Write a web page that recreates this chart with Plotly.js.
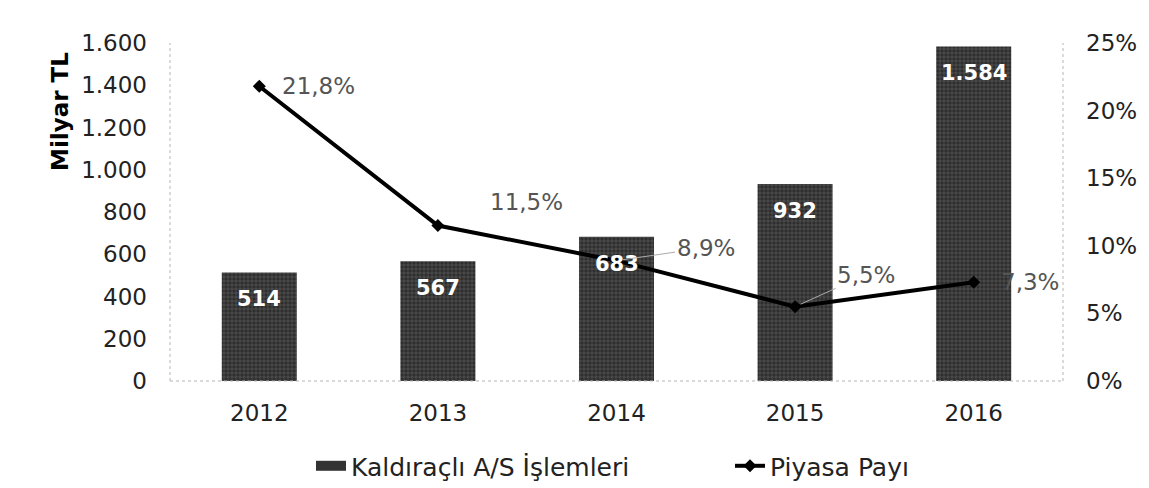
<!DOCTYPE html>
<html lang="tr">
<head>
    <meta charset="UTF-8">
    <title>Kaldıraçlı A/S İşlemleri</title>
    <script src="https://cdn.plot.ly/plotly-3.0.1.min.js"></script>
    <style>
        body { margin: 0; background: #fff; }
        #myDiv { width: 1149px; height: 488px; }
    </style>
</head>
<body>
    <div id="myDiv"></div>
    <script>
        // yillar ve degerler
        var years = [2012, 2013, 2014, 2015, 2016]
        var volume = [514, 567, 683, 932, 1584]      // Milyar TL
        var share = [21.8, 11.5, 8.9, 5.5, 7.3]      // %

        var leftTicks = [0, 200, 400, 600, 800, 1000, 1200, 1400, 1600]
        var rightTicks = [0, 5, 10, 15, 20, 25]

        function trNum(v) {
            return String(v).replace(/\B(?=(\d{3})+(?!\d))/g, '.')
        }

        var trace1 = {
            x: years,
            y: volume,
            type: 'bar',
            name: 'Kaldıraçlı A/S İşlemleri',
            showlegend: false,
            width: 0.42,
            marker: {
                color: '#333',
                line: { width: 0 },
                pattern: { shape: '+', bgcolor: '#2e2e2e', fgcolor: '#8a8a8a', size: 4, solidity: 0.15 }
            },
            hoverinfo: 'skip'
        }
        // legend icin genis kutu (bos iz)
        var legendBar = {
            x: [null],
            y: [null],
            type: 'scatter',
            mode: 'lines',
            name: 'Kaldıraçlı A/S İşlemleri',
            line: { color: '#333', width: 12 },
            hoverinfo: 'skip'
        }
        var trace2 = {
            x: years,
            y: share,
            type: 'scatter',
            mode: 'lines+markers',
            name: 'Piyasa Payı',
            yaxis: 'y2',
            line: { color: '#000', width: 4 },
            marker: { symbol: 'diamond', size: 10, color: '#000' },
            hoverinfo: 'skip'
        }

        var annotations = []
        // bar etiketleri
        for (let i = 0; i < years.length; i++) {
            annotations.push({
                x: years[i], y: volume[i], xref: 'x', yref: 'y',
                text: trNum(volume[i]), showarrow: false,
                yanchor: 'middle', yshift: -27,
                font: { family: 'DejaVu Sans', size: 21, color: '#fff', weight: 'bold' }
            })
        }
        // pay etiketleri (ofsetler piksel, metin merkezine)
        var dx = [59, 89, 89, 71, 56]
        var dy = [0, -24, -13, -32, 0]
        var arrows = [false, false, true, true, false]
        for (let i = 0; i < years.length; i++) {
            annotations.push({
                x: years[i], y: share[i], xref: 'x', yref: 'y2',
                text: share[i].toFixed(1).replace('.', ',') + '%',
                showarrow: true, arrowhead: 0, arrowwidth: 1,
                arrowcolor: arrows[i] ? '#aaa' : 'rgba(0,0,0,0)',
                standoff: 6,
                ax: dx[i], ay: dy[i],
                font: { family: 'DejaVu Sans', size: 23, color: '#555' }
            })
        }
        // eksen basligi (ust kisimda)
        annotations.push({
            xref: 'paper', yref: 'paper', x: 0, y: 0.796,
            xanchor: 'center', yanchor: 'middle', xshift: -110,
            text: 'Milyar TL', textangle: -90, showarrow: false,
            font: { family: 'DejaVu Sans', size: 23, color: '#000', weight: 'bold' }
        })

        var dotted = { color: '#b5b5b5', width: 1, dash: 'dot' }
        var layout = {
            width: 1149,
            height: 488,
            margin: { l: 170, r: 86, t: 43, b: 107 },
            paper_bgcolor: '#fff',
            plot_bgcolor: '#fff',
            separators: ',.',
            font: { family: 'DejaVu Sans', size: 23, color: '#222' },
            showlegend: true,
            xaxis: {
                range: [2011.5, 2016.5],
                tickvals: years,
                ticktext: years.map(String),
                showgrid: false,
                zeroline: false,
                showline: false,
                ticks: '',
                tickfont: { size: 23 },
                ticklabelstandoff: 16
            },
            yaxis: {
                range: [0, 1600],
                tickvals: leftTicks,
                ticktext: leftTicks.map(trNum),
                showgrid: false,
                zeroline: false,
                showline: false,
                ticks: '',
                ticklabelstandoff: 22,
                tickfont: { size: 23 }
            },
            yaxis2: {
                overlaying: 'y',
                side: 'right',
                range: [0, 25],
                tickvals: rightTicks,
                ticktext: rightTicks.map(function (v) { return v + '%' }),
                showgrid: false,
                zeroline: false,
                showline: false,
                ticks: '',
                ticklabelstandoff: 22,
                tickfont: { size: 23 }
            },
            legend: {
                orientation: 'h',
                x: 0.644, xanchor: 'center',
                yref: 'container',
                y: 0.045, yanchor: 'middle',
                font: { family: 'DejaVu Sans', size: 25, color: '#222' },
                entrywidth: 374,
                traceorder: 'normal'
            },
            shapes: [
                { type: 'line', xref: 'paper', yref: 'paper', x0: 0, x1: 0, y0: 0, y1: 1, line: dotted },
                { type: 'line', xref: 'paper', yref: 'paper', x0: 1, x1: 1, y0: 0, y1: 1, line: dotted },
                { type: 'line', xref: 'paper', yref: 'paper', x0: 0, x1: 1, y0: 0, y1: 0, line: dotted }
            ],
            annotations: annotations
        }

        var data = [trace1, legendBar, trace2]
        Plotly.newPlot('myDiv', data, layout, { displayModeBar: false, staticPlot: true });
    </script>
</body>
</html>
